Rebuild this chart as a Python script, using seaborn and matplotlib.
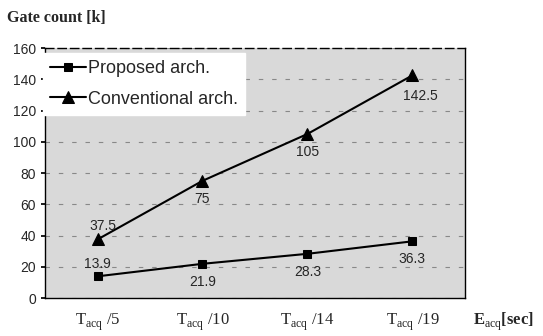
import pandas as pd
import seaborn as sns
import matplotlib.pyplot as plt

categories = ["T/5", "T/10", "T/14", "T/19"]
tick_labels = [r"T$_{\mathrm{acq}}$ /5", r"T$_{\mathrm{acq}}$ /10", r"T$_{\mathrm{acq}}$ /14", r"T$_{\mathrm{acq}}$ /19"]
proposed = [13.9, 21.9, 28.3, 36.3]
conventional = [37.5, 75, 105, 142.5]
series_names = ["Proposed arch.", "Conventional arch."]

df = pd.DataFrame({
    "x": list(range(len(categories))) * 2,
    "value": proposed + conventional,
    "series": [series_names[0]] * len(proposed) + [series_names[1]] * len(conventional),
})

sns.set_theme(style="white")
plt.rcParams["font.family"] = ["Liberation Sans", "DejaVu Sans"]
plt.rcParams["mathtext.fontset"] = "custom"
plt.rcParams["mathtext.rm"] = "Liberation Serif"

fig = plt.figure(figsize=(5.43, 3.36), dpi=100)
ax = fig.add_axes([0.083, 0.113, 0.773, 0.744])
ax.set_facecolor("#d9d9d9")

sns.lineplot(data=df, x="x", y="value", hue="series", style="series",
             markers={series_names[0]: "s", series_names[1]: "^"}, dashes=False,
             palette={series_names[0]: "black", series_names[1]: "black"},
             markersize=7, linewidth=1.5, markeredgecolor="black", ax=ax)

# square markers a bit smaller than the triangles
for ln in ax.lines:
    if ln.get_marker() == "s":
        ln.set_markersize(6)
    elif ln.get_marker() == "^":
        ln.set_markersize(8)

ax.set_xlim(-0.5, 3.5)
ax.set_ylim(0, 160)
ax.set_yticks(range(0, 161, 20))
ax.yaxis.grid(True, linestyle=(0, (4, 8)), color="#888888", linewidth=0.8)
ax.set_xticks(range(len(categories)))
ax.set_xticklabels(tick_labels, fontfamily="Liberation Serif", fontsize=12)
ax.tick_params(axis="x", length=0, pad=10)
ax.tick_params(axis="y", length=3, labelsize=10, color="black", left=True)
ax.set_xlabel("")
ax.set_ylabel("")
for s in ax.spines.values():
    s.set_color("black")
    s.set_linewidth(1.0)
ax.spines["top"].set_linestyle((0, (6, 3)))

# value labels
prop_offsets = [(0, 9), (0, -13), (0, -13), (0, -13)]
conv_offsets = [(4, 10), (0, -13), (0, -13), (6, -15)]
for i, v in enumerate(proposed):
    ax.annotate(str(v), (i, v), xytext=prop_offsets[i], textcoords="offset points",
                ha="center", va="center", fontsize=10)
for i, v in enumerate(conventional):
    ax.annotate(str(v), (i, v), xytext=conv_offsets[i], textcoords="offset points",
                ha="center", va="center", fontsize=10)

leg = ax.legend(loc="upper left", bbox_to_anchor=(-0.005, 0.98), fontsize=13,
                frameon=True, facecolor="white", edgecolor="white", framealpha=1,
                handlelength=2.0, handletextpad=0.1, borderaxespad=0.0, labelspacing=0.75,
                borderpad=0.4)
leg.get_frame().set_boxstyle("square", pad=0)

fig.text(0.013, 0.946, "Gate count [k]", fontfamily="Liberation Serif", fontweight="bold",
         fontsize=11.5, ha="left", va="center")
fig.text(0.871, 0.042, r"E$_{\mathrm{acq}}$[sec]", fontfamily="Liberation Serif", fontweight="bold",
         fontsize=12, ha="left", va="center")

fig.savefig("out.png", dpi=100)
